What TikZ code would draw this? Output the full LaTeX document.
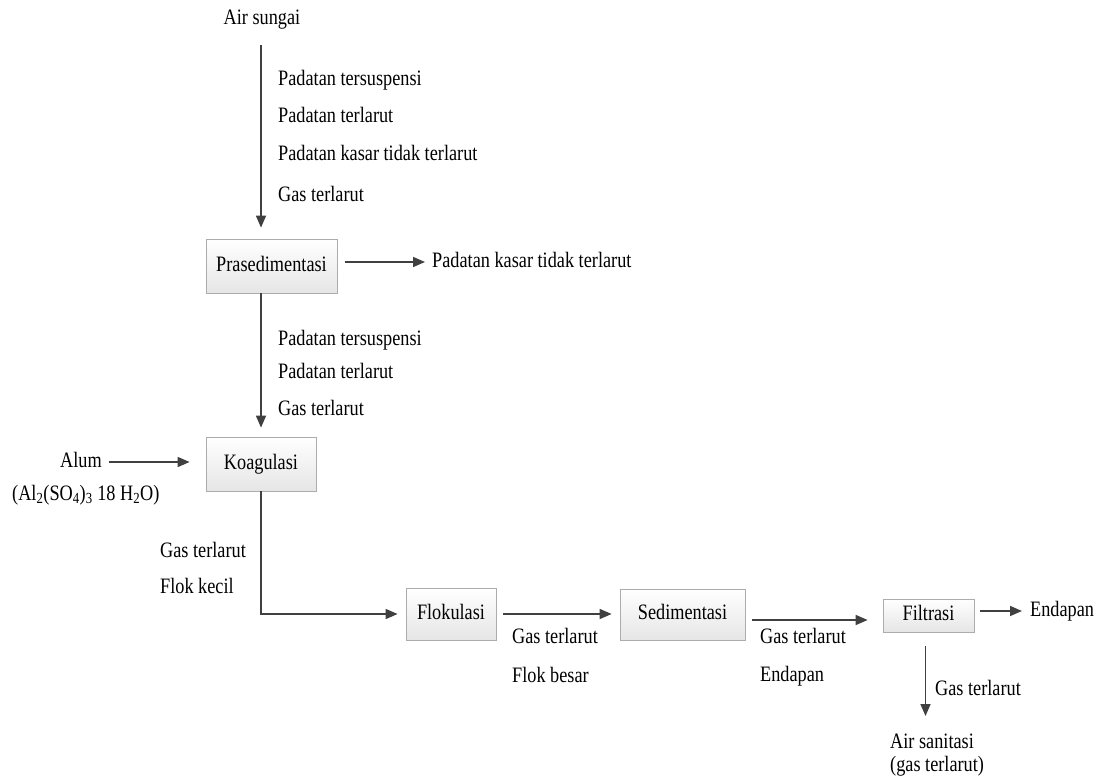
\documentclass[tikz,border=0pt]{standalone}
\usepackage{fontspec}
\setmainfont[FakeStretch=0.83]{Liberation Serif}
\usetikzlibrary{arrows.meta}
\begin{document}
\begin{tikzpicture}[x=1pt,y=-1pt,
  every node/.style={font=\fontsize{22}{26}\selectfont, inner sep=0pt, text height=15pt, text depth=5pt},
  lbl/.style={anchor=west},
  box/.style={draw=gray!65, line width=0.8pt, top color=white, bottom color=gray!20},
  arr/.style={draw=black!75, line width=1.6pt, -{Triangle[length=12pt,width=10pt]}}]
\useasboundingbox (0,0) rectangle (1104,776);

% source
\node (airs) at (262,20) {Air sungai};
\node[lbl] (a1) at (278,80) {Padatan tersuspensi};
\node[lbl] (a2) at (278,117) {Padatan terlarut};
\node[lbl] (a3) at (278,155) {Padatan kasar tidak terlarut};
\node[lbl] (a4) at (278,196) {Gas terlarut};

% process units
\node[box, minimum width=131pt, minimum height=54pt] (pras) at (271.5,266) {Prasedimentasi};
\node[box, minimum width=110pt, minimum height=54pt] (koag) at (261,464) {Koagulasi};
\node[box, minimum width=90pt, minimum height=52pt] (flok) at (451,614) {Flokulasi};
\node[box, minimum width=125pt, minimum height=51pt] (sedim) at (682.5,614.5) {Sedimentasi};
\node[box, minimum width=91pt, minimum height=33pt] (filt) at (928.5,615.5) {Filtrasi};

% stream labels
\node[lbl] (pk) at (432,262) {Padatan kasar tidak terlarut};
\node[lbl] (b1) at (278,340) {Padatan tersuspensi};
\node[lbl] (b2) at (278,373) {Padatan terlarut};
\node[lbl] (b3) at (278,410) {Gas terlarut};
\node[lbl] (alum) at (60,462) {Alum};
\node[lbl] (alumf) at (12,495) {(Al\textsubscript{2}(SO\textsubscript{4})\textsubscript{3} 18 H\textsubscript{2}O)};
\node[lbl] (c1) at (160,552) {Gas terlarut};
\node[lbl] (c2) at (160,588) {Flok kecil};
\node[lbl] (d1) at (512,638) {Gas terlarut};
\node[lbl] (d2) at (512,677) {Flok besar};
\node[lbl] (e1) at (760,638) {Gas terlarut};
\node[lbl] (e2) at (760,676) {Endapan};
\node[lbl] (endp) at (1030,611) {Endapan};
\node[lbl] (f1) at (935,690) {Gas terlarut};
\node[lbl] (out1) at (890,743) {Air sanitasi};
\node[lbl] (out2) at (890,766) {(gas terlarut)};
\coordinate (src) at (airs.south -| koag.north);
\coordinate (fend) at (925.5,716);

% connectors
\draw[arr, shorten <=15pt, shorten >=11pt] (src) -- (src |- pras.north);
\draw[arr, shorten <=8pt, shorten >=7pt] (pras.east |- pk.west) -- (pk.west);
\draw[arr, shorten >=9pt] (pras.south -| koag.north) -- (koag.north);
\draw[arr, shorten <=7pt, shorten >=16pt] (alum.east) -- (alum.east -| koag.west);
\draw[arr, shorten >=8pt] (koag.south) |- (flok.west);
\draw[arr, shorten <=7pt, shorten >=8pt] (flok.east) -- (flok.east -| sedim.west);
\draw[arr, shorten <=7pt, shorten >=15pt] ([yshift=-5.5pt]sedim.east) -- ([yshift=-5.5pt]sedim.east -| filt.west);
\draw[arr, shorten <=6pt, shorten >=8pt] (filt.east |- endp.west) -- (endp.west);
\draw[arr, shorten <=14pt] (filt.south -| fend) -- (fend);
\end{tikzpicture}
\end{document}
